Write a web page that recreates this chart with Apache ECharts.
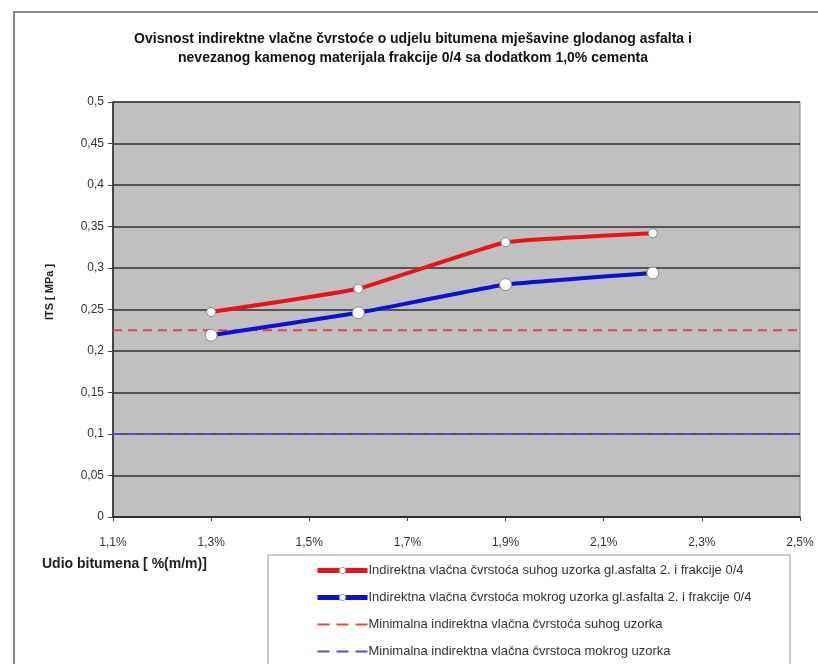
<!DOCTYPE html>
<html>
<head>
<meta charset="utf-8">
<script src="https://cdn.jsdelivr.net/npm/echarts@6/dist/echarts.min.js"></script>
<style>
  html, body { margin: 0; padding: 0; background: #fff; }
  #chart { width: 818px; height: 664px; }
</style>
</head>
<body>
<div id="chart"></div>
<script>
// udio bitumena (%)
const bitumen = [1.3, 1.6, 1.9, 2.2];
const itsDry = [0.247, 0.275, 0.331, 0.342];
const itsWet = [0.219, 0.246, 0.280, 0.294];
const minDry = 0.225;
const minWet = 0.1;
const xTicks = [1.1, 1.3, 1.5, 1.7, 1.9, 2.1, 2.3, 2.5];
const seriesNames = [
  'Indirektna vlačna čvrstoća suhog uzorka gl.asfalta 2. i frakcije 0/4',
  'Indirektna vlačna čvrstoća mokrog uzorka gl.asfalta 2. i frakcije 0/4',
  'Minimalna indirektna vlačna čvrstoća suhog uzorka',
  'Minimalna indirektna vlačna čvrstoca mokrog uzorka'
];

const xMin = xTicks[0];
const xMax = xTicks[xTicks.length - 1];
const pairs = (xs, ys) => xs.map((x, i) => [x, ys[i]]);
const comma = v => String(+v.toFixed(2)).replace('.', ',');
const font = 'Liberation Sans, Arial, sans-serif';

const chart = echarts.init(document.getElementById('chart'));
chart.setOption({
  animation: false,
  backgroundColor: '#ffffff',
  title: {
    text: 'Ovisnost indirektne vlačne čvrstoće o udjelu bitumena mješavine glodanog asfalta i\nnevezanog kamenog materijala frakcije 0/4 sa dodatkom 1,0% cementa',
    left: 408,
    top: 25,
    textAlign: 'center',
    textStyle: { fontFamily: font, fontSize: 14, fontWeight: 'bold', color: '#111', lineHeight: 19 }
  },
  grid: {
    left: 113, right: 18, top: 102, bottom: 147,
    show: true,
    backgroundColor: '#c0c0c0',
    borderColor: '#8a8a8a',
    borderWidth: 1
  },
  xAxis: {
    type: 'value',
    min: xMin,
    max: xMax,
    interval: 0.1,
    splitLine: { show: false },
    axisLine: { lineStyle: { color: '#222', width: 1.5 } },
    axisTick: { customValues: xTicks, length: 4, lineStyle: { color: '#444' } },
    axisLabel: {
      customValues: xTicks,
      margin: 20,
      fontFamily: font, fontSize: 12, color: '#333',
      formatter: v => comma(v) + '%'
    }
  },
  yAxis: {
    type: 'value',
    min: 0,
    max: 0.5,
    interval: 0.05,
    axisLine: { show: true, lineStyle: { color: '#222', width: 1.5 } },
    axisTick: { show: true, length: 5, lineStyle: { color: '#444' } },
    splitLine: { lineStyle: { color: '#303030', width: 1.5 } },
    axisLabel: { margin: 9, fontFamily: font, fontSize: 12, color: '#333', formatter: comma }
  },
  legend: {
    orient: 'vertical',
    left: 315,
    top: 563,
    itemWidth: 50,
    itemHeight: 8,
    itemGap: 12,
    padding: 0,
    textStyle: { fontFamily: font, fontSize: 13, color: '#333', padding: [0, 0, 0, -4], lineHeight: 15 },
    data: [
      { name: seriesNames[0], lineStyle: { width: 5 }, itemStyle: { color: '#fff', borderColor: '#999', borderWidth: 1 } },
      { name: seriesNames[1], lineStyle: { width: 5 }, itemStyle: { color: '#fff', borderColor: '#999', borderWidth: 1 } },
      { name: seriesNames[2], lineStyle: { width: 2, type: [12, 7] }, itemStyle: { opacity: 0 } },
      { name: seriesNames[3], lineStyle: { width: 2, type: [12, 7] }, itemStyle: { opacity: 0 } }
    ]
  },
  graphic: [
    { type: 'rect', shape: { x: 14, y: 12, width: 900, height: 700 }, style: { fill: 'none', stroke: '#8a8a8a', lineWidth: 2 }, silent: true },
    { type: 'rect', shape: { x: 268, y: 555, width: 522, height: 130 }, style: { fill: 'none', stroke: '#999', lineWidth: 1 }, silent: true },
    { type: 'text', left: 42, top: 557, style: { text: 'Udio bitumena [ %(m/m)]', fontFamily: font, fontSize: 14, fontWeight: 'bold', fill: '#222' } },
    {
      type: 'text', x: 50, y: 292, rotation: Math.PI / 2,
      style: { text: 'ITS [ MPa ]', fontFamily: font, fontSize: 11, fontWeight: 'bold', fill: '#222', align: 'center', verticalAlign: 'middle' }
    }
  ],
  series: [
    {
      name: seriesNames[0], type: 'line', smooth: 0.1,
      data: pairs(bitumen, itsDry),
      symbol: 'circle', symbolSize: 9,
      itemStyle: { color: '#ffffff', borderColor: '#888', borderWidth: 1 },
      lineStyle: { color: '#e8141c', width: 4 },
      z: 4
    },
    {
      name: seriesNames[1], type: 'line', smooth: 0.1,
      data: pairs(bitumen, itsWet),
      symbol: 'circle', symbolSize: 12,
      itemStyle: { color: '#ffffff', borderColor: '#888', borderWidth: 1 },
      lineStyle: { color: '#1010d0', width: 4 },
      z: 4
    },
    {
      name: seriesNames[2], type: 'line',
      data: pairs([xMin, xMax], [minDry, minDry]),
      symbol: 'none',
      itemStyle: { color: '#e04848' },
      lineStyle: { color: '#e04848', width: 2, type: [9, 6] },
      z: 3
    },
    {
      name: seriesNames[3], type: 'line',
      data: pairs([xMin, xMax], [minWet, minWet]),
      symbol: 'none',
      itemStyle: { color: '#5050e0' },
      lineStyle: { color: '#5050e0', width: 1.5, type: [9, 6] },
      z: 3
    }
  ]
});
</script>
</body>
</html>
